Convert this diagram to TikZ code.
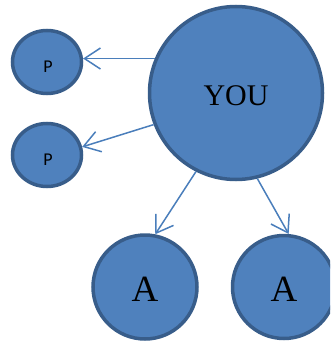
\documentclass[tikz,border=0pt]{standalone}
\usepackage{fontspec}
\setmainfont{Liberation Serif}
\newfontfamily\psans{Carlito}
\usetikzlibrary{arrows.meta,shapes.geometric}
\definecolor{bfill}{HTML}{4F81BD}
\definecolor{bline}{HTML}{385D8A}
\definecolor{aline}{HTML}{4A7EBB}
\begin{document}
\begin{tikzpicture}[x=1pt,y=-1pt,
  bubble/.style={circle,draw=bline,fill=bfill,line width=3.5pt,inner sep=0pt},
  pbubble/.style={ellipse,draw=bline,fill=bfill,line width=3.5pt,inner sep=0pt,minimum width=69pt,minimum height=63pt},
  arr/.style={draw=aline,line width=1.5pt,-{Straight Barb[length=16pt,width=21pt,line width=1.5pt]}}]
\clip (0,0) rectangle (330,342);
\node[bubble,minimum size=173pt,font=\fontsize{30}{30}\selectfont] (you) at (236,93) {\raisebox{-3pt}[\height][0pt]{YOU}};
\node[pbubble,font=\psans\fontsize{18}{18}\selectfont] (p1) at (47,62) {\raisebox{-5pt}[\height][0pt]{\kern2pt P}};
\node[pbubble,font=\psans\fontsize{18}{18}\selectfont] (p2) at (47,155) {\raisebox{-5pt}[\height][0pt]{\kern2pt P}};
\node[bubble,minimum size=104pt,font=\fontsize{37}{37}\selectfont] (a1) at (145,287) {\raisebox{-2.5pt}[\height][0pt]{A}};
\node[bubble,minimum size=103pt,font=\fontsize{37}{37}\selectfont] (a2) at (284,287) {\raisebox{-2.5pt}[\height][0pt]{A}};
\draw[arr] (you.157) -- (p1.5 |- you.157);
\draw[arr] (you.201) -- (p2.13);
\draw[arr] (you.243) -- (a1.79);
\draw[arr] (you.284) -- (a2.85);
\end{tikzpicture}
\end{document}
